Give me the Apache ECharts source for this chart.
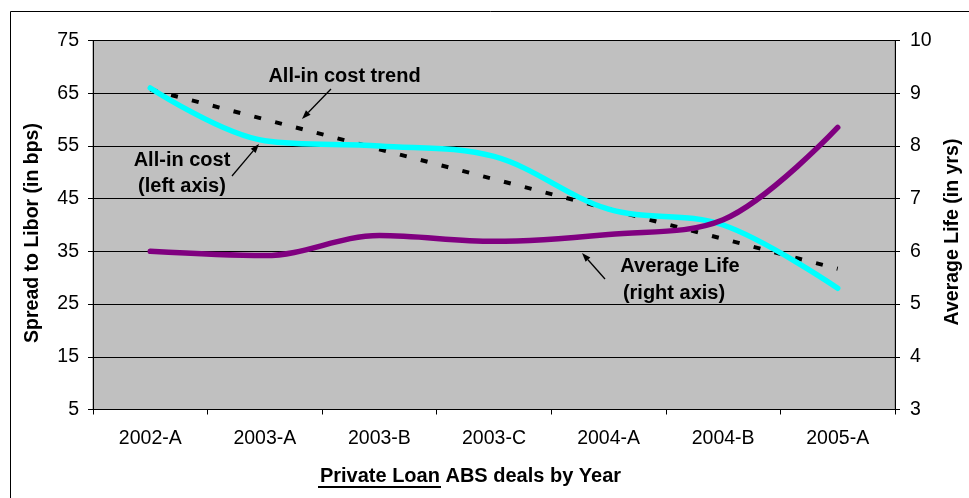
<!DOCTYPE html>
<html>
<head>
<meta charset="utf-8">
<script src="https://cdn.jsdelivr.net/npm/echarts@6/dist/echarts.min.js"></script>
<style>
  html, body { margin: 0; padding: 0; background: #ffffff; }
  #chart { width: 969px; height: 498px; }
</style>
</head>
<body>
<div id="chart"></div>
<script>
// Deal series along the category axis
const categories = ['2002-A', '2003-A', '2003-B', '2003-C', '2004-A', '2004-B', '2005-A'];
// Spread to Libor, bps (left axis)
const allInCost = [66, 56, 55, 53, 43, 40, 28];
// Straight trend of the all-in cost: two end values, joined across the gap
const costTrend = [65.7, null, null, null, null, null, 31.7];
// Average life, years (right axis)
const averageLife = [6.0, 5.92, 6.3, 6.19, 6.32, 6.6, 8.35];
// Tick values
const leftTicks = [5, 15, 25, 35, 45, 55, 65, 75];
const rightTicks = [3, 4, 5, 6, 7, 8, 9, 10];

const FONT = "'Liberation Sans', Arial, Helvetica, sans-serif";

const chart = echarts.init(document.getElementById('chart'), null, { renderer: 'canvas' });

// Thin annotation arrow: a shaft plus a small filled head at the end point
function arrow(x1, y1, x2, y2) {
  const dx = x2 - x1, dy = y2 - y1;
  const len = Math.sqrt(dx * dx + dy * dy);
  const ux = dx / len, uy = dy / len;
  const hl = 9, hw = 3.2;
  const bx = x2 - ux * hl, by = y2 - uy * hl;
  return [
    { type: 'line', z: 100, shape: { x1: x1, y1: y1, x2: bx, y2: by },
      style: { stroke: '#000', lineWidth: 1.3 } },
    { type: 'polygon', z: 100,
      shape: { points: [[x2, y2], [bx - uy * hw, by + ux * hw], [bx + uy * hw, by - ux * hw]] },
      style: { fill: '#000' } }
  ];
}

function label(text, x, y) {
  return { type: 'text', z: 100, x: x, y: y,
    style: { text: text, font: 'bold 20px ' + FONT, fill: '#000',
      textAlign: 'center', textVerticalAlign: 'middle' } };
}

const option = {
  animation: false,
  backgroundColor: '#ffffff',
  textStyle: { fontFamily: FONT },
  grid: {
    left: 93, right: 74, top: 40.5, bottom: 88.5,
    show: true, backgroundColor: '#c0c0c0', borderColor: '#808080', borderWidth: 1
  },
  xAxis: {
    type: 'category',
    data: categories,
    boundaryGap: true,
    axisLine: { show: true, lineStyle: { color: '#000', width: 1 } },
    axisTick: { show: true, alignWithLabel: false, length: 5, inside: false,
      lineStyle: { color: '#000', width: 1 } },
    axisLabel: { color: '#000', fontSize: 19.5, fontFamily: FONT, margin: 19 },
    splitLine: { show: false }
  },
  yAxis: [
    {
      type: 'value', position: 'left',
      min: 5, max: 75,
      axisLine: { show: true, lineStyle: { color: '#000', width: 1 } },
      axisTick: { show: true, length: 5, customValues: leftTicks,
        lineStyle: { color: '#000', width: 1 } },
      axisLabel: { color: '#000', fontSize: 19.5, fontFamily: FONT, margin: 14,
        customValues: leftTicks },
      splitLine: { show: true, lineStyle: { color: '#000', width: 1 } }
    },
    {
      type: 'value', position: 'right',
      min: 3, max: 10, interval: 1,
      axisLine: { show: true, lineStyle: { color: '#000', width: 1 } },
      axisTick: { show: true, length: 5, lineStyle: { color: '#000', width: 1 } },
      axisLabel: { color: '#000', fontSize: 19.5, fontFamily: FONT, margin: 15 },
      splitLine: { show: false }
    }
  ],
  series: [
    {
      name: 'All-in cost trend', type: 'line', yAxisIndex: 0,
      data: costTrend, connectNulls: true, showSymbol: false, symbol: 'none',
      lineStyle: { color: '#000', width: 4, type: [7, 14.5], cap: 'butt' },
      z: 3
    },
    {
      name: 'All-in cost', type: 'line', yAxisIndex: 0,
      data: allInCost, smooth: 0.35, showSymbol: false, symbol: 'none',
      lineStyle: { color: '#00ffff', width: 5.5, cap: 'round', join: 'round' },
      z: 4
    },
    {
      name: 'Average Life', type: 'line', yAxisIndex: 1,
      data: averageLife, smooth: 0.35, showSymbol: false, symbol: 'none',
      lineStyle: { color: '#800080', width: 5.5, cap: 'round', join: 'round' },
      z: 5
    }
  ],
  graphic: [
    // outer chart frame
    { type: 'rect', z: -1, shape: { x: 10.5, y: 11.5, width: 1000, height: 600 },
      style: { fill: null, stroke: '#000', lineWidth: 1 } },
    // axis titles
    { type: 'text', z: 100, x: 33, y: 233, rotation: Math.PI / 2,
      style: { text: 'Spread to Libor (in bps)', font: 'bold 19.5px ' + FONT, fill: '#000',
        textAlign: 'center', textVerticalAlign: 'middle' } },
    { type: 'text', z: 100, x: 953, y: 232, rotation: Math.PI / 2,
      style: { text: 'Average Life (in yrs)', font: 'bold 19.5px ' + FONT, fill: '#000',
        textAlign: 'center', textVerticalAlign: 'middle' } },
    { type: 'text', z: 100, x: 470.5, y: 476,
      style: { text: 'Private Loan ABS deals by Year', font: 'bold 20px ' + FONT, fill: '#000',
        textAlign: 'center', textVerticalAlign: 'middle' } },
    { type: 'line', z: 100, shape: { x1: 318, y1: 487, x2: 441, y2: 487 },
      style: { stroke: '#000', lineWidth: 2 } },
    // series call-outs
    label('All-in cost trend', 344.5, 76),
    label('All-in cost', 182, 160),
    label('(left axis)', 182, 186.5),
    label('Average Life', 680, 266),
    label('(right axis)', 674, 293)
  ].concat(arrow(331, 89, 302, 119))
   .concat(arrow(232, 176, 259, 144))
   .concat(arrow(605, 279, 582, 253))
};

chart.setOption(option);
</script>
</body>
</html>
